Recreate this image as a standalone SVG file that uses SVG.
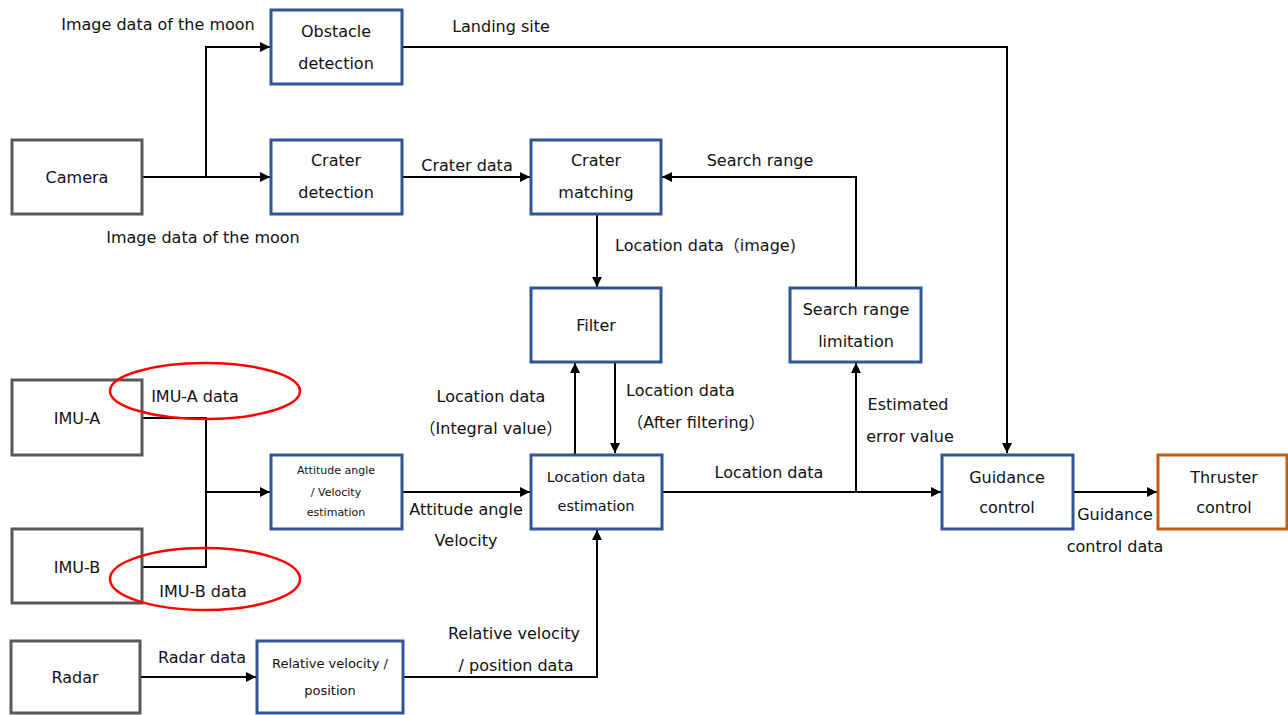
<svg xmlns="http://www.w3.org/2000/svg" width="1288" height="715" viewBox="0 0 1288 715">
<style>
text{font-family:"DejaVu Sans","Noto Sans CJK JP",sans-serif;font-size:16px;fill:#111;text-anchor:middle;dominant-baseline:central}
.g{fill:#fff;stroke:#595959;stroke-width:3}
.b{fill:#fff;stroke:#2F5597;stroke-width:3}
.o{fill:#fff;stroke:#C55A11;stroke-width:3}
.c{fill:none;stroke:#000;stroke-width:2}
.s{font-size:11px}
.m{font-size:14.5px}
.r{font-size:13px}
.l{text-anchor:start}
</style>
<defs>
<marker id="a" viewBox="0 0 10 10" refX="10" refY="5" markerWidth="5" markerHeight="5" orient="auto" markerUnits="strokeWidth">
<path d="M0,0L10,5L0,10z" fill="#000"/>
</marker>
</defs>
<g id="connectors">
<path class="c" d="M142,177H270" marker-end="url(#a)"/>
<path class="c" d="M206,177V47H270" marker-end="url(#a)"/>
<path class="c" d="M402,47H1007V453" marker-end="url(#a)"/>
<path class="c" d="M402,177H530" marker-end="url(#a)"/>
<path class="c" d="M856,288V177H662" marker-end="url(#a)"/>
<path class="c" d="M597,214V287" marker-end="url(#a)"/>
<path class="c" d="M575,454V363" marker-end="url(#a)"/>
<path class="c" d="M615,362V453" marker-end="url(#a)"/>
<path class="c" d="M142,418H206V567H142"/>
<path class="c" d="M206,492H270" marker-end="url(#a)"/>
<path class="c" d="M402,492H530" marker-end="url(#a)"/>
<path class="c" d="M662,492H941" marker-end="url(#a)"/>
<path class="c" d="M856,492V363" marker-end="url(#a)"/>
<path class="c" d="M1073,492H1157" marker-end="url(#a)"/>
<path class="c" d="M140,677H256" marker-end="url(#a)"/>
<path class="c" d="M403,677H597V530" marker-end="url(#a)"/>
</g>
<g id="camera"><rect class="g" x="12" y="140" width="130" height="74"/><text x="77" y="177">Camera</text></g>
<g id="obstacle"><rect class="b" x="271" y="10" width="131" height="74"/><text x="336" y="31">Obstacle</text><text x="336" y="63">detection</text></g>
<g id="craterdet"><rect class="b" x="271" y="140" width="131" height="74"/><text x="336" y="160">Crater</text><text x="336" y="192">detection</text></g>
<g id="cratermatch"><rect class="b" x="531" y="140" width="130" height="74"/><text x="596" y="160">Crater</text><text x="596" y="192">matching</text></g>
<g id="filter"><rect class="b" x="531" y="288" width="130" height="74"/><text x="596" y="325">Filter</text></g>
<g id="searchlim"><rect class="b" x="790" y="288" width="131" height="74"/><text x="856" y="309">Search range</text><text x="856" y="341">limitation</text></g>
<g id="imua"><rect class="g" x="12" y="380" width="130" height="75"/><text x="77" y="418">IMU-A</text></g>
<g id="imub"><rect class="g" x="12" y="529" width="130" height="74"/><text x="77" y="567">IMU-B</text></g>
<g id="attest"><rect class="b" x="271" y="455" width="131" height="74"/><text class="s" x="336" y="470">Attitude angle</text><text class="s" x="336" y="492">/ Velocity</text><text class="s" x="336" y="512">estimation</text></g>
<g id="locest"><rect class="b" x="531" y="455" width="131" height="74"/><text class="m" x="596" y="477">Location data</text><text class="m" x="596" y="506">estimation</text></g>
<g id="guidance"><rect class="b" x="942" y="455" width="131" height="74"/><text x="1007" y="477">Guidance</text><text x="1007" y="507">control</text></g>
<g id="thruster"><rect class="o" x="1158" y="455" width="129" height="74"/><text x="1224" y="477">Thruster</text><text x="1224" y="507">control</text></g>
<g id="radar"><rect class="g" x="11" y="641" width="129" height="72"/><text x="75" y="677">Radar</text></g>
<g id="relvel"><rect class="b" x="257" y="641" width="146" height="72"/><text class="r" x="330" y="663">Relative velocity /</text><text class="r" x="330" y="690">position</text></g>
<g id="labels">
<text x="158" y="24">Image data of the moon</text>
<text x="501" y="26">Landing site</text>
<text x="203" y="237">Image data of the moon</text>
<text x="467" y="165">Crater data</text>
<text x="760" y="160">Search range</text>
<text class="l" x="615" y="245">Location data（image)</text>
<text x="491" y="396">Location data</text>
<text x="491" y="428">（Integral value）</text>
<text class="l" x="626" y="390">Location data</text>
<text x="696" y="422">（After filtering）</text>
<text x="908" y="404">Estimated</text>
<text x="910" y="436">error value</text>
<text x="195" y="396">IMU-A data</text>
<text x="203" y="591">IMU-B data</text>
<text x="466" y="509">Attitude angle</text>
<text x="466" y="540">Velocity</text>
<text x="769" y="472">Location data</text>
<text x="1115" y="514">Guidance</text>
<text x="1115" y="546">control data</text>
<text x="514" y="633">Relative velocity</text>
<text x="516" y="665">/ position data</text>
<text x="202" y="657">Radar data</text>
</g>
<g id="highlights" fill="none" stroke="#FF0000" stroke-width="2.5">
<ellipse cx="205" cy="391" rx="95" ry="28"/>
<ellipse cx="205" cy="579" rx="95" ry="31"/>
</g>
</svg>
